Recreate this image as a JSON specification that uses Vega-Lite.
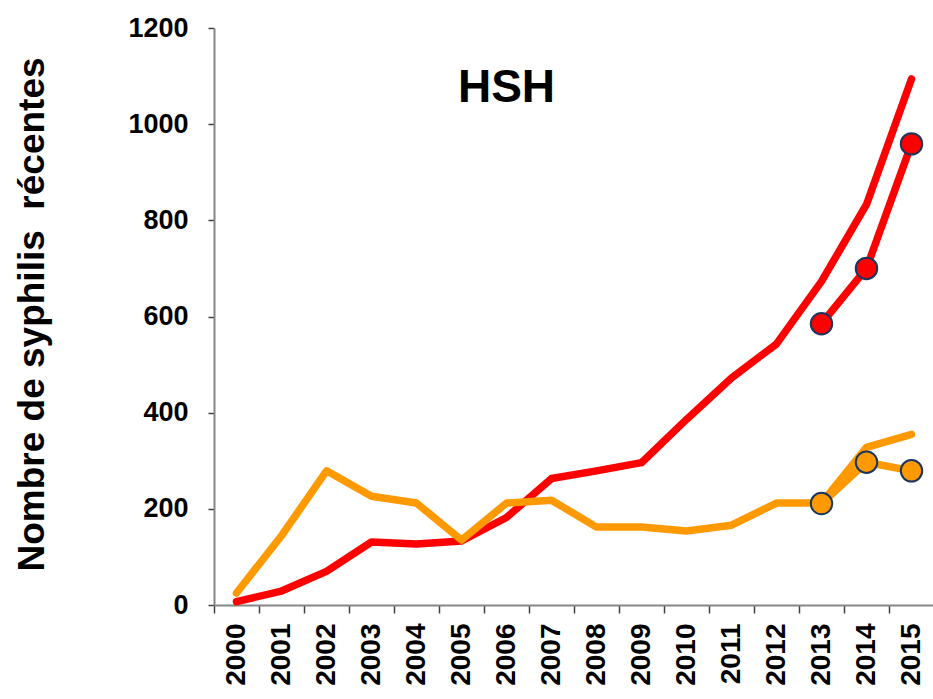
{
  "$schema": "https://vega.github.io/schema/vega-lite/v6.json",
  "width": 720,
  "height": 577,
  "autosize": {"type": "none"},
  "padding": {"left": 214, "top": 28, "right": 0, "bottom": 94},
  "background": "white",
  "config": {
    "view": {"stroke": null},
    "font": "Liberation Sans"
  },
  "datasets": {
    "lines": [
      {"serie": "1", "annee": "2000", "n": 7},
      {"serie": "1", "annee": "2001", "n": 29},
      {"serie": "1", "annee": "2002", "n": 70},
      {"serie": "1", "annee": "2003", "n": 131},
      {"serie": "1", "annee": "2004", "n": 127},
      {"serie": "1", "annee": "2005", "n": 133},
      {"serie": "1", "annee": "2006", "n": 182},
      {"serie": "1", "annee": "2007", "n": 263},
      {"serie": "1", "annee": "2008", "n": 279},
      {"serie": "1", "annee": "2009", "n": 296},
      {"serie": "1", "annee": "2010", "n": 386},
      {"serie": "1", "annee": "2011", "n": 472},
      {"serie": "1", "annee": "2012", "n": 543},
      {"serie": "1", "annee": "2013", "n": 673},
      {"serie": "1", "annee": "2014", "n": 833},
      {"serie": "1", "annee": "2015", "n": 1094},
      {"serie": "2", "annee": "2000", "n": 25},
      {"serie": "2", "annee": "2001", "n": 144},
      {"serie": "2", "annee": "2002", "n": 279},
      {"serie": "2", "annee": "2003", "n": 226},
      {"serie": "2", "annee": "2004", "n": 212},
      {"serie": "2", "annee": "2005", "n": 135},
      {"serie": "2", "annee": "2006", "n": 212},
      {"serie": "2", "annee": "2007", "n": 218},
      {"serie": "2", "annee": "2008", "n": 162},
      {"serie": "2", "annee": "2009", "n": 162},
      {"serie": "2", "annee": "2010", "n": 154},
      {"serie": "2", "annee": "2011", "n": 166},
      {"serie": "2", "annee": "2012", "n": 212},
      {"serie": "2", "annee": "2013", "n": 212},
      {"serie": "2", "annee": "2014", "n": 328},
      {"serie": "2", "annee": "2015", "n": 355}
    ],
    "points": [
      {"serie": "3", "annee": "2013", "n": 585},
      {"serie": "3", "annee": "2014", "n": 700},
      {"serie": "3", "annee": "2015", "n": 959},
      {"serie": "4", "annee": "2013", "n": 211},
      {"serie": "4", "annee": "2014", "n": 297},
      {"serie": "4", "annee": "2015", "n": 279}
    ],
    "titre": [{"label": "HSH", "annee": "2006", "n": 1046}]
  },
  "layer": [
    {
      "data": {"name": "lines"},
      "mark": {"type": "line", "strokeWidth": 7.5, "strokeCap": "round", "strokeJoin": "round"},
      "encoding": {
        "x": {
          "field": "annee",
          "type": "ordinal",
          "scale": {"type": "band", "paddingInner": 0, "paddingOuter": 0,
            "domain": ["2000","2001","2002","2003","2004","2005","2006","2007","2008","2009","2010","2011","2012","2013","2014","2015"]},
          "axis": {
            "title": null,
            "tickBand": "extent",
            "labelAngle": 270,
            "labelAlign": "right",
            "labelBaseline": "middle",
            "labelFontSize": 28,
            "labelFontWeight": "bold",
            "labelColor": "black",
            "labelPadding": 10,
            "tickSize": 8,
            "tickColor": "#404040",
            "tickWidth": 1.5,
            "domainColor": "#868686",
            "domainWidth": 2
          }
        },
        "y": {
          "field": "n",
          "type": "quantitative",
          "scale": {"domain": [0, 1200], "nice": false},
          "axis": {
            "values": [0, 200, 400, 600, 800, 1000, 1200],
            "format": "d",
            "grid": false,
            "title": "Nombre de syphilis \u00a0récentes",
            "titleFontSize": 37,
            "titleFontWeight": "bold",
            "titleColor": "black",
            "titleAngle": 270,
            "titleAlign": "center",
            "titleBaseline": "alphabetic",
            "titleX": -171,
            "titleY": 286,
            "labelFontSize": 27,
            "labelFontWeight": "bold",
            "labelColor": "black",
            "labelPadding": 20,
            "tickSize": 6,
            "tickColor": "#404040",
            "tickWidth": 1.5,
            "domainColor": "#868686",
            "domainWidth": 2
          }
        },
        "color": {
          "field": "serie",
          "type": "nominal",
          "scale": {"domain": ["1", "2", "3", "4"], "range": ["#FF0000", "#FF9900", "#FF0000", "#FF9900"]},
          "legend": null
        }
      }
    },
    {
      "data": {"name": "points"},
      "mark": {"type": "line", "strokeWidth": 7.5, "strokeCap": "round", "strokeJoin": "round"},
      "encoding": {
        "x": {"field": "annee", "type": "ordinal"},
        "y": {"field": "n", "type": "quantitative"},
        "color": {"field": "serie", "type": "nominal", "legend": null}
      }
    },
    {
      "data": {"name": "points"},
      "mark": {"type": "point", "shape": "circle", "filled": true, "size": 460, "opacity": 1, "stroke": "#1B365D", "strokeWidth": 2},
      "encoding": {
        "x": {"field": "annee", "type": "ordinal"},
        "y": {"field": "n", "type": "quantitative"},
        "fill": {
          "field": "serie",
          "type": "nominal",
          "scale": {"domain": ["1", "2", "3", "4"], "range": ["#FF0000", "#FF9900", "#FF0000", "#FF9900"]},
          "legend": null
        }
      }
    },
    {
      "data": {"name": "titre"},
      "mark": {"type": "text", "fontSize": 46, "fontWeight": "bold", "font": "Liberation Sans", "color": "black", "align": "center", "baseline": "alphabetic"},
      "encoding": {
        "x": {"field": "annee", "type": "ordinal"},
        "y": {"field": "n", "type": "quantitative"},
        "text": {"field": "label"}
      }
    }
  ]
}
